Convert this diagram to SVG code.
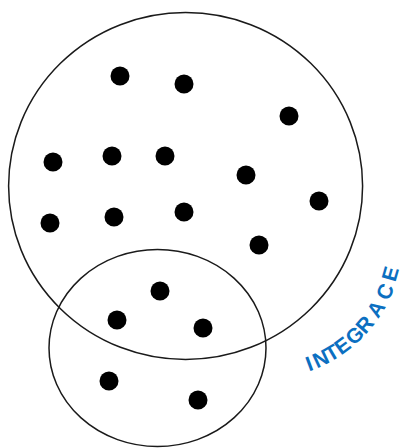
<svg xmlns="http://www.w3.org/2000/svg" width="400" height="448" viewBox="0 0 400 448">
<style>
.ring{fill:none;stroke:#1a1a1a;stroke-width:1.5}
.dot{fill:#000}
.lbl{font-family:"Liberation Sans Narrow","Liberation Sans",Arial,sans-serif;font-weight:bold;font-size:21px;fill:#0b6fc1}
</style>
<rect width="400" height="448" fill="#fff"/>
<g id="set-large">
<ellipse class="ring" cx="185.6" cy="186" rx="177" ry="173.5"/>
</g>
<g id="set-small">
<ellipse class="ring" cx="157.5" cy="348" rx="108.5" ry="98.5"/>
</g>
<g id="elements">
<circle class="dot" cx="120" cy="76" r="9.5"/>
<circle class="dot" cx="184" cy="84" r="9.5"/>
<circle class="dot" cx="289" cy="116" r="9.5"/>
<circle class="dot" cx="53" cy="162" r="9.5"/>
<circle class="dot" cx="112" cy="156" r="9.5"/>
<circle class="dot" cx="165" cy="156" r="9.5"/>
<circle class="dot" cx="246" cy="175" r="9.5"/>
<circle class="dot" cx="319" cy="201" r="9.5"/>
<circle class="dot" cx="50" cy="223" r="9.5"/>
<circle class="dot" cx="114" cy="217" r="9.5"/>
<circle class="dot" cx="184" cy="212" r="9.5"/>
<circle class="dot" cx="259" cy="245" r="9.5"/>
<circle class="dot" cx="160" cy="291" r="9.5"/>
<circle class="dot" cx="117" cy="320" r="9.5"/>
<circle class="dot" cx="203" cy="328" r="9.5"/>
<circle class="dot" cx="109" cy="381" r="9.5"/>
<circle class="dot" cx="198" cy="400" r="9.5"/>
</g>
<g id="label">
<text class="lbl" x="309.1 317.1 329.9 341.1 353.4 365.2 378.0 388.6 395.3" y="371.5 368.4 362.2 355.4 346.3 335.0 319.3 301.4 282.5" rotate="-20.4 -25.4 -30.8 -36.3 -42.9 -49.3 -57.5 -65.9 -73.9">INTEGRACE</text>
</g>
</svg>
